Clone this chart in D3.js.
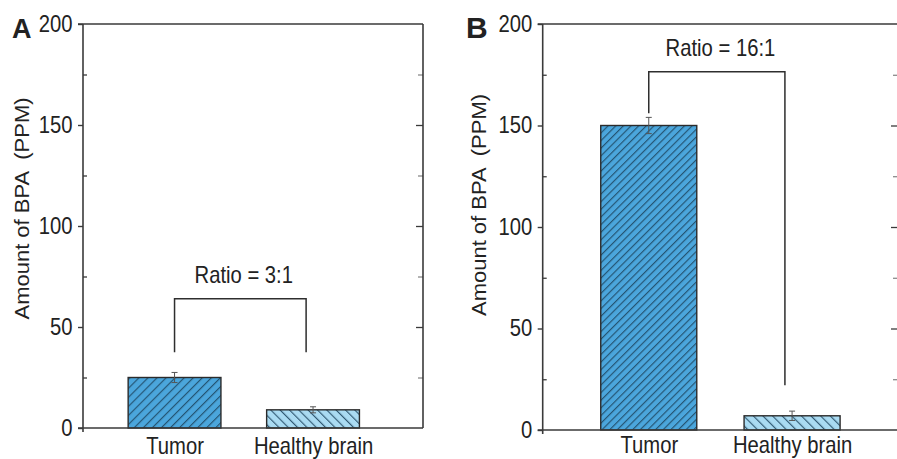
<!DOCTYPE html>
<html>
<head>
<meta charset="utf-8">
<script src="https://cdn.jsdelivr.net/npm/d3@7"></script>
<style>
  html, body { margin: 0; padding: 0; background: #fff; }
  svg { display: block; }
  text { font-family: "Liberation Sans", Arial, sans-serif; fill: #222; }
</style>
</head>
<body>
<svg id="chart" width="897" height="459"></svg>
<script>
// ---------- data ----------
const categories = ["Tumor", "Healthy brain"];
const panelLetters = ["A", "B"];
const valuesA = [25, 9];
const errorsA = [2.5, 1.5];
const valuesB = [150, 7];
const errorsB = [4, 2.3];
const ratioLabels = ["Ratio = 3:1", "Ratio = 16:1"];
const bracketTopA = 64;
const bracketLegsA = [37.5, 37.5];
const bracketTopB = 176.5;
const bracketLegsB = [156, 22];
const ratioTextValue = [72, 184];
const majorTicks = [0, 50, 100, 150, 200];
const minorTicks = [25, 75, 125, 175];
const yTitle = "Amount of BPA  (PPM)";

// ---------- layout ----------
const panels = [
  { letter: panelLetters[0], values: valuesA, errors: errorsA, bracketTop: bracketTopA, legs: bracketLegsA,
    ratio: ratioLabels[0], ratioY: ratioTextValue[0],
    left: 83, right: 423, top: 24, bottom: 428, xDomain: [0.339, 2.794],
    titleX: 29, titleY: 208.5, letterX: 12, letterSize: 27, catPad: 10,
    hatchTumor: 6.4, hatchHealthy: 6.6 },
  { letter: panelLetters[1], values: valuesB, errors: errorsB, bracketTop: bracketTopB, legs: bracketLegsB,
    ratio: ratioLabels[1], ratioY: ratioTextValue[1],
    left: 542.7, right: 898, top: 24, bottom: 430, xDomain: [0.26, 2.739],
    titleX: 486, titleY: 205, letterX: 466, letterSize: 30, catPad: 6.5,
    hatchTumor: 5.4, hatchHealthy: 6.8 }
];

const SX = 0.88;           // horizontal squeeze of the reference text
const FS = 23;
const axisColor = "#3a3a3a";
const tumorFill = "#4ba6dc";
const healthyFill = "#aadbf2";
const hatchColor = "#1d4560";

const svg = d3.select("#chart");
const defs = svg.append("defs");

function makeHatch(id, fill, spacing, angle) {
  const p = defs.append("pattern")
    .attr("id", id)
    .attr("patternUnits", "userSpaceOnUse")
    .attr("width", spacing)
    .attr("height", spacing)
    .attr("patternTransform", `rotate(${angle})`);
  p.append("rect").attr("width", spacing).attr("height", spacing).attr("fill", fill);
  p.append("line").attr("x1", 0.6).attr("y1", 0).attr("x2", 0.6).attr("y2", spacing)
    .attr("stroke", hatchColor).attr("stroke-width", 1.1).attr("stroke-opacity", 0.9);
}

panels.forEach((P, pi) => {
  makeHatch(`tumor${pi}`, tumorFill, P.hatchTumor, 45);
  makeHatch(`healthy${pi}`, healthyFill, P.hatchHealthy, -45);

  const x = d3.scaleLinear().domain(P.xDomain).range([P.left, P.right]);
  const y = d3.scaleLinear().domain([0, 200]).range([P.bottom, P.top]);
  const g = svg.append("g");
  const barW = 0.67;

  // bars
  g.selectAll("rect.bar").data(P.values).join("rect")
    .attr("class", "bar")
    .attr("x", (d, i) => x(i + 1 - barW / 2))
    .attr("width", x(1 + barW / 2) - x(1 - barW / 2))
    .attr("y", d => y(d))
    .attr("height", d => y(0) - y(d))
    .attr("fill", (d, i) => i === 0 ? `url(#tumor${pi})` : `url(#healthy${pi})`)
    .attr("stroke", "#2b2b2b")
    .attr("stroke-width", 1.4);

  // error bars
  const eb = g.selectAll("g.err").data(P.values).join("g").attr("class", "err");
  eb.append("line")
    .attr("x1", (d, i) => x(i + 1)).attr("x2", (d, i) => x(i + 1))
    .attr("y1", (d, i) => y(d - P.errors[i])).attr("y2", (d, i) => y(d + P.errors[i]))
    .attr("stroke", "#555").attr("stroke-width", 1);
  [-1, 1].forEach(s => {
    eb.append("line")
      .attr("x1", (d, i) => x(i + 1) - 3).attr("x2", (d, i) => x(i + 1) + 3)
      .attr("y1", (d, i) => y(d + s * P.errors[i])).attr("y2", (d, i) => y(d + s * P.errors[i]))
      .attr("stroke", "#555").attr("stroke-width", 1);
  });

  // frame lines
  g.append("line").attr("x1", x.range()[0]).attr("x2", x.range()[0])
    .attr("y1", y(200)).attr("y2", y(0) + 4).attr("stroke", axisColor).attr("stroke-width", 1.6);
  g.append("line").attr("x1", x.range()[1]).attr("x2", x.range()[1])
    .attr("y1", y(200)).attr("y2", y(0)).attr("stroke", axisColor).attr("stroke-width", 1.6);
  g.append("line").attr("x1", x.range()[0] - 5).attr("x2", x.range()[1])
    .attr("y1", y(200)).attr("y2", y(200)).attr("stroke", axisColor).attr("stroke-width", 1.6);
  g.append("line").attr("x1", x.range()[0] - 5).attr("x2", x.range()[1])
    .attr("y1", y(0)).attr("y2", y(0)).attr("stroke", axisColor).attr("stroke-width", 1.6);

  // left axis, major ticks with labels
  const left = g.append("g").attr("transform", `translate(${P.left},0)`)
    .call(d3.axisLeft(y).tickValues(majorTicks).tickSize(5).tickPadding(7));
  left.select(".domain").remove();
  left.selectAll(".tick line").attr("stroke", axisColor).attr("stroke-width", 1.4);
  left.selectAll(".tick text")
    .attr("font-size", FS).attr("font-family", "Liberation Sans, Arial, sans-serif")
    .attr("fill", "#222").attr("transform", `scale(${SX},1)`);

  // left minor ticks inward
  const leftMinor = g.append("g").attr("transform", `translate(${P.left},0)`)
    .call(d3.axisLeft(y).tickValues(minorTicks).tickSize(-4).tickFormat(""));
  leftMinor.select(".domain").remove();
  leftMinor.selectAll(".tick line").attr("stroke", axisColor).attr("stroke-width", 1.3);

  // right axis ticks inward
  const rightMaj = g.append("g").attr("transform", `translate(${P.right},0)`)
    .call(d3.axisRight(y).tickValues(majorTicks.slice(1, -1)).tickSize(-7).tickFormat(""));
  rightMaj.select(".domain").remove();
  rightMaj.selectAll(".tick line").attr("stroke", axisColor).attr("stroke-width", 1.3);
  const rightMin = g.append("g").attr("transform", `translate(${P.right},0)`)
    .call(d3.axisRight(y).tickValues(minorTicks).tickSize(-5).tickFormat(""));
  rightMin.select(".domain").remove();
  rightMin.selectAll(".tick line").attr("stroke", axisColor).attr("stroke-width", 1.1).attr("stroke-opacity", 0.7);

  // bottom category labels
  const bottom = g.append("g").attr("transform", `translate(0,${P.bottom})`)
    .call(d3.axisBottom(x).tickValues([1, 2]).tickSize(0).tickPadding(P.catPad)
      .tickFormat(d => categories[d - 1]));
  bottom.select(".domain").remove();
  bottom.selectAll(".tick text")
    .attr("font-size", FS).attr("font-family", "Liberation Sans, Arial, sans-serif")
    .attr("fill", "#222").attr("transform", `scale(${SX},1)`);

  // bracket
  const bx2 = 1.95;
  g.append("path")
    .attr("d", `M${x(1)},${y(P.legs[0])}V${y(P.bracketTop)}H${x(bx2)}V${y(P.legs[1])}`)
    .attr("fill", "none").attr("stroke", "#2e2e2e").attr("stroke-width", 1.5);

  g.append("text")
    .attr("transform", `translate(${x(1.5)},${y(P.ratioY)}) scale(${SX},1)`)
    .attr("text-anchor", "middle").attr("font-size", FS)
    .text(P.ratio);

  // y title
  g.append("text")
    .attr("transform", `translate(${P.titleX},${P.titleY}) scale(${SX},1) rotate(-90)`)
    .attr("text-anchor", "middle").attr("font-size", 22)
    .style("white-space", "pre")
    .text(yTitle);

  // panel letter
  g.append("text")
    .attr("x", P.letterX).attr("y", 38)
    .attr("font-size", P.letterSize).attr("font-weight", "bold")
    .attr("fill", "#1a1a1a")
    .text(P.letter);
});
</script>
</body>
</html>
